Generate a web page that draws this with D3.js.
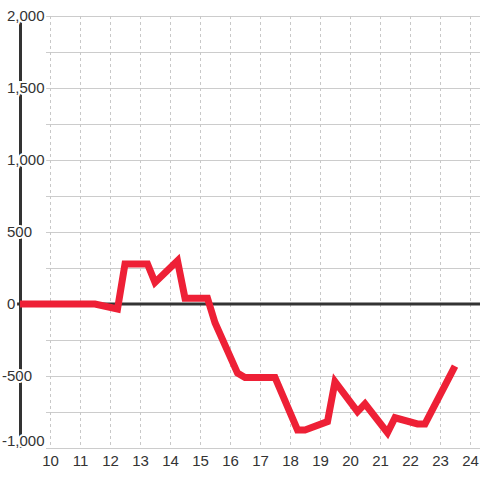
<!DOCTYPE html>
<html><head><meta charset="utf-8">
<script src="https://cdn.jsdelivr.net/npm/d3@7"></script>
<style>html,body{margin:0;padding:0;background:#fff}svg{display:block}</style>
</head><body>
<svg id="c" width="480" height="480"></svg>
<script>
const hours = [9, 11.5, 12.25, 12.5, 13.25, 13.5, 14.25, 14.5, 15.25, 15.5, 16.25, 16.5, 17.5, 18.25, 18.5, 19.25, 19.5, 20.25, 20.5, 21.25, 21.5, 22.25, 22.5, 23.5];
const values = [0, 0, -35, 278, 278, 150, 300, 40, 40, -130, -480, -510, -510, -875, -875, -817, -540, -748, -694, -894, -790, -833, -833, -431];
const xTicks = [10, 11, 12, 13, 14, 15, 16, 17, 18, 19, 20, 21, 22, 23, 24];
const yTicks = [-1000, -500, 0, 500, 1000, 1500, 2000];
const yGrid = [-1000, -750, -500, -250, 250, 500, 750, 1000, 1250, 1500, 1750, 2000];

const svg = d3.select("#c");
const x = d3.scaleLinear().domain([9, 24]).range([20, 470]);
const y = d3.scaleLinear().domain([-1000, 2000]).range([448, 16]);

// horizontal grid
svg.append("g").selectAll("line").data(yGrid).join("line")
  .attr("x1", 46).attr("x2", 480)
  .attr("y1", d => y(d)).attr("y2", d => y(d))
  .attr("stroke", "#cccccc").attr("stroke-width", 1).attr("shape-rendering", "crispEdges");

// vertical dashed grid
svg.append("g").selectAll("line").data(xTicks).join("line")
  .attr("x1", d => x(d) + 0.5).attr("x2", d => x(d) + 0.5)
  .attr("y1", y(2000)).attr("y2", y(-1000))
  .attr("stroke", "#c8c8c8").attr("stroke-width", 1).attr("stroke-dasharray", "3,3");

// y axis line
svg.append("line").attr("x1", 20.5).attr("x2", 20.5).attr("y1", y(2000)).attr("y2", y(-1000))
  .attr("stroke", "#333").attr("stroke-width", 3);

// zero line
svg.append("line").attr("x1", 17).attr("x2", 480).attr("y1", y(0)).attr("y2", y(0))
  .attr("stroke", "#333").attr("stroke-width", 3);

// y labels
const fmt = d3.format(",");
svg.append("g").selectAll("text").data(yTicks).join("text")
  .attr("x", d => d < 0 ? 2 : 7)
  .attr("y", d => d === -1000 ? y(d) - 7 : y(d))
  .attr("dy", "0.36em")
  .attr("font-family", "Liberation Sans, Arial, sans-serif")
  .attr("font-size", 15)
  .attr("fill", "#333")
  .attr("stroke", "#fff").attr("stroke-width", 4).attr("paint-order", "stroke")
  .text(d => fmt(d).replace("−", "-"));

// x labels
svg.append("g").selectAll("text").data(xTicks).join("text")
  .attr("x", d => x(d) + 0.5)
  .attr("y", 466)
  .attr("text-anchor", "middle")
  .attr("font-family", "Liberation Sans, Arial, sans-serif")
  .attr("font-size", 15)
  .attr("fill", "#333")
  .text(d => d);

// data line
const line = d3.line().x((d, i) => x(hours[i])).y(d => y(d));
svg.append("path").datum(values)
  .attr("d", line)
  .attr("fill", "none")
  .attr("stroke", "#ee2036")
  .attr("stroke-width", 7)
  .attr("stroke-linejoin", "miter");
</script>
</body></html>
